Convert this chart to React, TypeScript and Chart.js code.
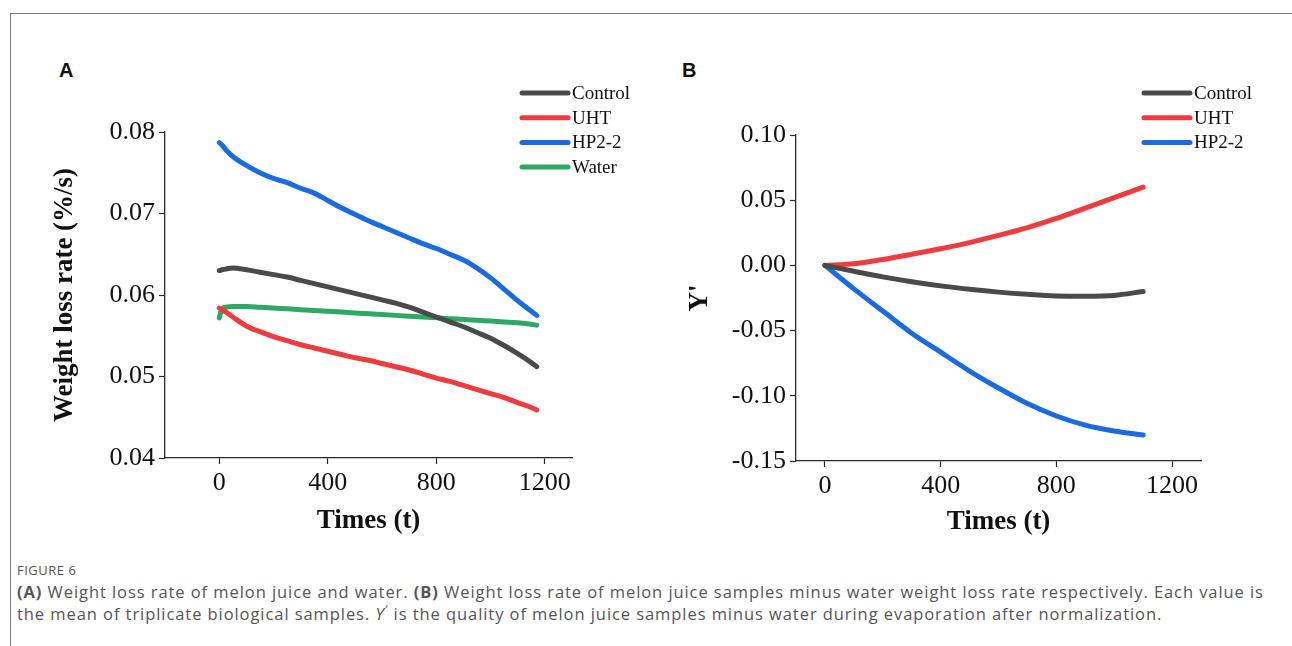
import React, { useEffect, useRef } from 'react';
import { Chart, registerables } from 'chart.js';

Chart.register(...registerables);

// ---------- Data ----------
const seriesA = ['Control', 'UHT', 'HP2-2', 'Water'];
const seriesB = ['Control', 'UHT', 'HP2-2'];
const colorControl = '#4a4a4a';
const colorUHT = '#ef3b3d';
const colorHP = '#1a6be0';
const colorWater = '#2ea864';

const timeA = [0, 10, 25, 50, 100, 150, 200, 250, 300, 350, 400, 450, 500, 550, 600, 650, 700, 750, 800, 850, 900, 950, 1000, 1050, 1100, 1150, 1170];
const controlA = [0.0630, 0.0631, 0.0632, 0.0633, 0.0631, 0.0628, 0.0625, 0.0622, 0.0618, 0.0614, 0.0610, 0.0606, 0.0602, 0.0598, 0.0594, 0.0590, 0.0585, 0.0579, 0.0573, 0.0567, 0.0561, 0.0554, 0.0547, 0.0538, 0.0528, 0.0517, 0.0512];
const uhtA = [0.0584, 0.0582, 0.0579, 0.0573, 0.0562, 0.0555, 0.0549, 0.0544, 0.0539, 0.0535, 0.0531, 0.0527, 0.0523, 0.0520, 0.0516, 0.0512, 0.0508, 0.0503, 0.0498, 0.0494, 0.0489, 0.0484, 0.0479, 0.0474, 0.0468, 0.0462, 0.0459];
const hpA = [0.0787, 0.0784, 0.0778, 0.0770, 0.0759, 0.0750, 0.0743, 0.0738, 0.0731, 0.0725, 0.0716, 0.0707, 0.0699, 0.0691, 0.0684, 0.0677, 0.0670, 0.0663, 0.0657, 0.0650, 0.0643, 0.0633, 0.0621, 0.0607, 0.0593, 0.0580, 0.0575];
const waterA = [0.0572, 0.0583, 0.0585, 0.0586, 0.0586, 0.0585, 0.0584, 0.0583, 0.0582, 0.0581, 0.0580, 0.0579, 0.0578, 0.0577, 0.0576, 0.0575, 0.0574, 0.0573, 0.0572, 0.0571, 0.0570, 0.0569, 0.0568, 0.0567, 0.0566, 0.0564, 0.0563];

const timeB = [0, 100, 200, 300, 400, 500, 600, 700, 800, 900, 1000, 1100];
const controlB = [0, -0.0045, -0.0088, -0.0125, -0.0157, -0.0183, -0.0205, -0.0222, -0.0234, -0.0236, -0.0230, -0.0200];
const uhtB = [0, 0.0012, 0.0045, 0.0085, 0.0128, 0.0175, 0.0230, 0.0290, 0.0360, 0.0440, 0.0520, 0.0600];
const hpB = [0, -0.0180, -0.0350, -0.0520, -0.0665, -0.0810, -0.0940, -0.1060, -0.1155, -0.1225, -0.1270, -0.1300];

const xTicks = [0, 400, 800, 1200];

// ---------- Helpers ----------
const serif = '"Liberation Serif", "Times New Roman", serif';
const axisColor = '#2a2a2a';

const toPoints = (xs: number[], ys: number[]) => xs.map((x, i) => ({ x, y: ys[i] }));

const makeDataset = (label: string, color: string, xs: number[], ys: number[]) => ({
  label,
  data: toPoints(xs, ys),
  borderColor: color,
  backgroundColor: color,
  borderWidth: 5,
  pointRadius: 0,
  cubicInterpolationMode: 'monotone' as const,
  borderCapStyle: 'round' as const,
  borderJoinStyle: 'round' as const,
});

const legendPlugin = (x0: number, y0: number, dy: number) => ({
  id: 'customLegend',
  afterDraw(chart: any) {
    const ctx = chart.ctx;
    ctx.save();
    chart.data.datasets.forEach((ds: any, i: number) => {
      const y = y0 + i * dy;
      ctx.strokeStyle = ds.borderColor;
      ctx.lineWidth = 5;
      ctx.lineCap = 'round';
      ctx.beginPath();
      ctx.moveTo(x0 + 2, y);
      ctx.lineTo(x0 + 48, y);
      ctx.stroke();
      ctx.fillStyle = '#111';
      ctx.font = `19px ${serif}`;
      ctx.textBaseline = 'middle';
      ctx.textAlign = 'left';
      ctx.fillText(ds.label, x0 + 52, y + 1);
    });
    ctx.restore();
  },
});

interface PanelCfg {
  width: number;
  height: number;
  areaLeft: number;
  areaRight: number;
  areaTop: number;
  areaBottom: number;
  xMin: number;
  xMax: number;
  yMin: number;
  yMax: number;
  yStep: number;
  yTitle: string;
  yTitleCenter: number;
  xTitleCenter: number;
  legendX: number;
}

const buildConfig = (cfg: PanelCfg, datasets: any[]) => ({
  type: 'line' as const,
  data: { datasets },
  plugins: [legendPlugin(cfg.legendX, 93, 24.7)],
  options: {
    responsive: false,
    animation: false as const,
    events: [],
    layout: {
      padding: { left: 0, top: cfg.areaTop, right: cfg.width - cfg.areaRight, bottom: 0 },
    },
    plugins: { legend: { display: false }, tooltip: { enabled: false }, title: { display: false } },
    scales: {
      x: {
        type: 'linear' as const,
        min: cfg.xMin,
        max: cfg.xMax,
        afterFit: (s: any) => { s.height = cfg.height - cfg.areaBottom; },
        afterBuildTicks: (s: any) => { s.ticks = xTicks.map((v) => ({ value: v })); },
        grid: { drawOnChartArea: false, drawTicks: true, tickLength: 6, tickColor: axisColor, tickWidth: 1.2 },
        border: { display: true, color: axisColor, width: 1.3 },
        ticks: {
          color: '#111',
          font: { family: serif, size: 26 },
          padding: 4,
          maxRotation: 0,
          autoSkip: false,
          callback: (v: any) => String(v),
        },
        title: {
          display: true,
          text: 'Times (t)',
          color: '#111',
          font: { family: serif, size: 27, weight: 'bold' as const, lineHeight: 1.2 },
          padding: { top: 0, bottom: cfg.height - cfg.xTitleCenter - 16.2 },
        },
      },
      y: {
        type: 'linear' as const,
        min: cfg.yMin,
        max: cfg.yMax,
        afterFit: (s: any) => { s.width = cfg.areaLeft; },
        afterBuildTicks: (s: any) => {
          const t: { value: number }[] = [];
          const n = Math.round((cfg.yMax - cfg.yMin) / cfg.yStep);
          for (let i = 0; i <= n; i++) t.push({ value: cfg.yMin + i * cfg.yStep });
          s.ticks = t;
        },
        grid: { drawOnChartArea: false, drawTicks: true, tickLength: 6, tickColor: axisColor, tickWidth: 1.2 },
        border: { display: true, color: axisColor, width: 1.3 },
        ticks: {
          color: '#111',
          font: { family: serif, size: 26 },
          padding: 4,
          callback: (v: any) => (Math.abs(Number(v)) < 1e-9 ? '0.00' : Number(v).toFixed(2)),
        },
        title: {
          display: true,
          text: cfg.yTitle,
          color: '#111',
          font: { family: serif, size: 27, weight: 'bold' as const, lineHeight: 1.2 },
          padding: { top: cfg.yTitleCenter - 16.2, bottom: 0 },
        },
      },
    },
  },
});

const ChartCanvas: React.FC<{ cfg: PanelCfg; datasets: any[]; left: number }> = ({ cfg, datasets, left }) => {
  const ref = useRef<HTMLCanvasElement | null>(null);
  useEffect(() => {
    if (!ref.current) return;
    const chart = new Chart(ref.current, buildConfig(cfg, datasets) as any);
    return () => chart.destroy();
  }, []);
  return (
    <canvas
      ref={ref}
      width={cfg.width}
      height={cfg.height}
      style={{ position: 'absolute', left, top: 0, width: cfg.width, height: cfg.height }}
    />
  );
};

const panelA: PanelCfg = {
  width: 640, height: 545,
  areaLeft: 165, areaRight: 572, areaTop: 132, areaBottom: 458,
  xMin: -200, xMax: 1300, yMin: 0.04, yMax: 0.08, yStep: 0.01,
  yTitle: 'Weight loss rate (%/s)', yTitleCenter: 65, xTitleCenter: 521,
  legendX: 520,
};

const panelB: PanelCfg = {
  width: 652, height: 545,
  areaLeft: 156, areaRight: 561, areaTop: 135, areaBottom: 461,
  xMin: -100, xMax: 1300, yMin: -0.15, yMax: 0.10, yStep: 0.05,
  yTitle: "Y'", yTitleCenter: 60, xTitleCenter: 522,
  legendX: 502,
};

const datasetsA = [
  makeDataset(seriesA[0], colorControl, timeA, controlA),
  makeDataset(seriesA[1], colorUHT, timeA, uhtA),
  makeDataset(seriesA[2], colorHP, timeA, hpA),
  makeDataset(seriesA[3], colorWater, timeA, waterA),
];

const datasetsB = [
  makeDataset(seriesB[0], colorControl, timeB, controlB),
  makeDataset(seriesB[1], colorUHT, timeB, uhtB),
  makeDataset(seriesB[2], colorHP, timeB, hpB),
];

const captionFont = '"Open Sans", "Noto Sans", sans-serif';

export default function App() {
  return (
    <div style={{ position: 'absolute', left: 0, top: 0, width: 1292, height: 646, background: '#fff', overflow: 'hidden' }}>
      <div style={{ position: 'absolute', left: 10, top: 13, width: 1282, height: 1, background: '#777' }} />
      <div style={{ position: 'absolute', left: 10, top: 13, width: 1, height: 633, background: '#777' }} />
      <div style={{ position: 'absolute', left: 59, top: 59, font: `bold 20px "Liberation Sans", Arial, sans-serif`, color: '#111' }}>A</div>
      <div style={{ position: 'absolute', left: 682, top: 59, font: `bold 20px "Liberation Sans", Arial, sans-serif`, color: '#111' }}>B</div>
      <ChartCanvas cfg={panelA} datasets={datasetsA} left={0} />
      <ChartCanvas cfg={panelB} datasets={datasetsB} left={640} />
      <div style={{ position: 'absolute', left: 17, top: 561, fontFamily: captionFont, fontSize: 13, letterSpacing: 0.5, color: '#555', whiteSpace: 'nowrap' }}>FIGURE 6</div>
      <div style={{ position: 'absolute', left: 17, top: 581, fontFamily: captionFont, fontSize: 16.5, letterSpacing: 0.93, color: '#555', whiteSpace: 'nowrap', lineHeight: '22px' }}>
        <div><b>(A)</b> Weight loss rate of melon juice and water. <b>(B)</b> Weight loss rate of melon juice samples minus water weight loss rate respectively. Each value is</div>
        <div>the mean of triplicate biological samples. <i>Y</i><sup style={{ fontSize: 12, lineHeight: 0 }}>′</sup> is the quality of melon juice samples minus water during evaporation after normalization.</div>
      </div>
    </div>
  );
}
